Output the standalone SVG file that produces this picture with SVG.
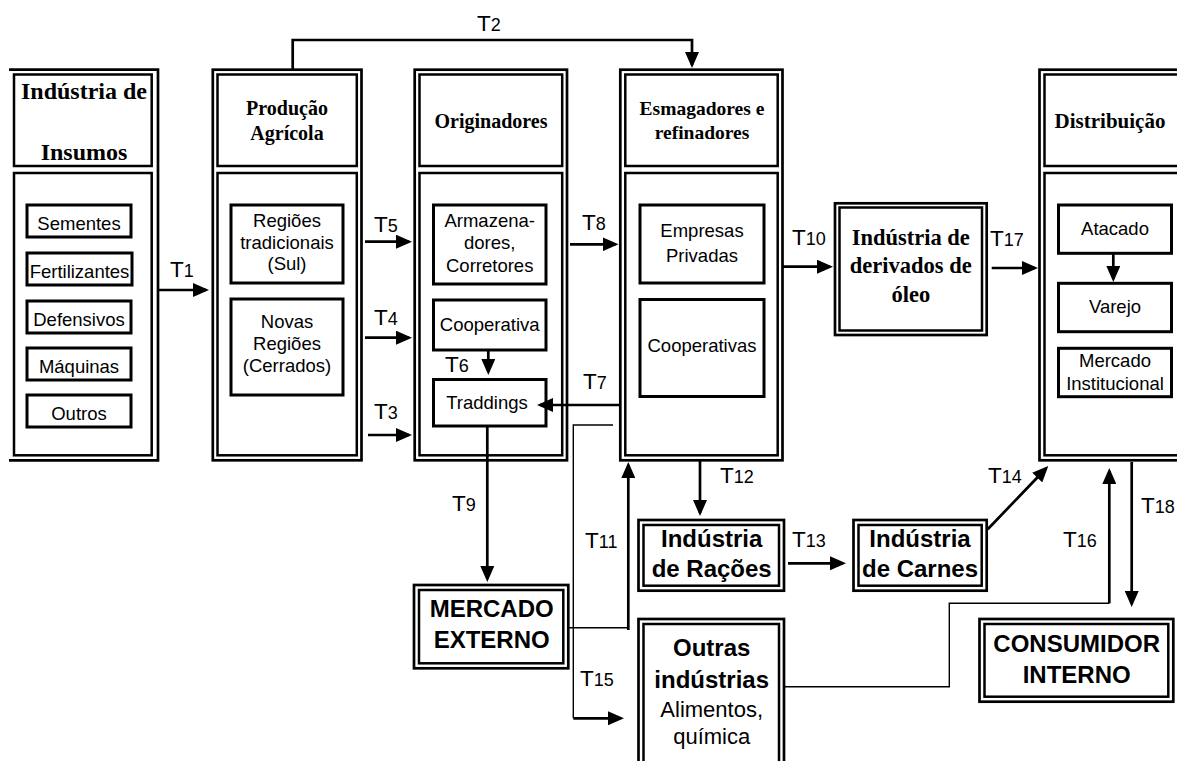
<svg xmlns="http://www.w3.org/2000/svg" width="1177" height="761" viewBox="0 0 1177 761">
<defs>
<marker id="a" markerUnits="userSpaceOnUse" markerWidth="16" markerHeight="14" refX="13" refY="7" orient="auto"><path d="M0,0 L16,7 L0,14 z" fill="#000"/></marker>
<style>
.o{fill:none;stroke:#000;stroke-width:2.7}
.i{fill:none;stroke:#000;stroke-width:2.5}
.bx{fill:#fff;stroke:#000;stroke-width:3}
.hs{font-family:"Liberation Serif","Times New Roman",serif;font-weight:bold;text-anchor:middle;fill:#000}
.t{font-family:"Liberation Sans",Arial,sans-serif;font-size:18.5px;text-anchor:middle;fill:#000}
.tb{font-family:"Liberation Sans",Arial,sans-serif;font-weight:bold;font-size:24px;text-anchor:middle;fill:#000}
.tr{font-family:"Liberation Sans",Arial,sans-serif;font-size:22px;text-anchor:middle;fill:#000}
.lbl{font-family:"Liberation Sans",Arial,sans-serif;font-size:22.5px;fill:#000}
.n{font-size:18px}
.c{fill:none;stroke:#000;stroke-width:2.7}
.th{fill:none;stroke:#000;stroke-width:1.4}
.ar{marker-end:url(#a)}
</style>
</defs>
<rect width="1177" height="761" fill="#fff"/>

<g id="insumos">
<path class="o" d="M9,69.7 H158 V460.3 H9"/>
<rect class="i" x="14" y="74.5" width="137.7" height="91.5"/>
<rect class="i" x="14" y="173" width="137.7" height="282.3"/>
<text class="hs" x="84" y="99" font-size="24">Indústria de</text>
<text class="hs" x="84" y="160" font-size="24">Insumos</text>
<rect class="bx" x="27" y="205" width="104" height="32"/>
<text class="t" x="79" y="230">Sementes</text>
<rect class="bx" x="27" y="253" width="105" height="32"/>
<text class="t" x="79.5" y="278">Fertilizantes</text>
<rect class="bx" x="27" y="301" width="104" height="32"/>
<text class="t" x="79" y="326">Defensivos</text>
<rect class="bx" x="27" y="348" width="104" height="32"/>
<text class="t" x="79" y="373">Máquinas</text>
<rect class="bx" x="27" y="395" width="104" height="32"/>
<text class="t" x="79" y="420">Outros</text>
</g>

<g id="producao">
<rect class="o" x="212.8" y="69.7" width="148.7" height="390.6"/>
<rect class="i" x="217.5" y="74.5" width="139.3" height="91.5"/>
<rect class="i" x="217.5" y="173" width="139.3" height="282.3"/>
<text class="hs" x="287" y="115" font-size="20">Produção</text>
<text class="hs" x="287" y="140" font-size="20">Agrícola</text>
<rect class="bx" x="231" y="205" width="112" height="78"/>
<text class="t" x="287" y="227">Regiões</text>
<text class="t" x="287" y="248.5">tradicionais</text>
<text class="t" x="287" y="269.5">(Sul)</text>
<rect class="bx" x="231" y="299" width="112" height="96"/>
<text class="t" x="287" y="328">Novas</text>
<text class="t" x="287" y="350">Regiões</text>
<text class="t" x="287" y="372">(Cerrados)</text>
</g>

<g id="originadores">
<rect class="o" x="414.7" y="69.7" width="152.3" height="390.6"/>
<rect class="i" x="419.5" y="74.5" width="142.7" height="91.5"/>
<rect class="i" x="419.5" y="173" width="142.7" height="282.3"/>
<text class="hs" x="491" y="128" font-size="20">Originadores</text>
<rect class="bx" x="433.5" y="205" width="112.5" height="79"/>
<text class="t" x="489.7" y="227">Armazena-</text>
<text class="t" x="489.7" y="249">dores,</text>
<text class="t" x="489.7" y="272">Corretores</text>
<rect class="bx" x="433.5" y="300" width="112.5" height="50"/>
<text class="t" x="489.7" y="331">Cooperativa</text>
<rect class="bx" x="433.5" y="379.5" width="112.5" height="46.5"/>
<text class="t" x="487" y="408.5">Traddings</text>
</g>

<g id="esmagadores">
<rect class="o" x="620.3" y="69.7" width="162.2" height="390.6"/>
<rect class="i" x="625.3" y="74.5" width="152.4" height="91.5"/>
<rect class="i" x="625.3" y="173" width="152.4" height="282.3"/>
<text class="hs" x="702" y="115" font-size="19.5">Esmagadores e</text>
<text class="hs" x="702" y="139.3" font-size="19.5">refinadores</text>
<rect class="bx" x="640" y="205" width="124" height="78"/>
<text class="t" x="702" y="237.3">Empresas</text>
<text class="t" x="702" y="261.7">Privadas</text>
<rect class="bx" x="640" y="299.5" width="124" height="97"/>
<text class="t" x="702" y="352">Cooperativas</text>
</g>

<g id="derivados">
<rect class="o" x="835" y="203.3" width="151.7" height="131.7"/>
<rect class="i" x="839.5" y="207.5" width="142.5" height="123"/>
<text class="hs" x="910.8" y="245" font-size="22.5">Indústria de</text>
<text class="hs" x="910.8" y="273.3" font-size="22.5">derivados de</text>
<text class="hs" x="910.8" y="301.7" font-size="22.5">óleo</text>
</g>

<g id="distribuicao">
<rect class="o" x="1039.5" y="69.7" width="150" height="390.6"/>
<rect class="i" x="1044.5" y="74.5" width="140" height="91.5"/>
<rect class="i" x="1044.5" y="173" width="140" height="282.3"/>
<text class="hs" x="1110" y="128.3" font-size="21">Distribuição</text>
<rect class="bx" x="1058.5" y="205" width="113" height="48.3"/>
<text class="t" x="1115" y="235">Atacado</text>
<rect class="bx" x="1058.5" y="283.3" width="113" height="48.4"/>
<text class="t" x="1115" y="313.3">Varejo</text>
<rect class="bx" x="1058.5" y="348.3" width="113" height="48.4"/>
<text class="t" x="1115" y="366.7" font-size="17">Mercado</text>
<text class="t" x="1115" y="390" font-size="17">Institucional</text>
</g>

<g id="mercado-externo">
<rect class="o" x="414" y="585" width="154.3" height="83.3"/>
<rect class="i" x="419" y="590" width="144.3" height="73.3"/>
<text class="tb" x="491.7" y="616.7">MERCADO</text>
<text class="tb" x="491.7" y="648.3">EXTERNO</text>
</g>

<g id="racoes">
<rect class="o" x="638.5" y="520" width="145.5" height="70.7"/>
<rect class="i" x="643.5" y="525" width="135.5" height="60.7"/>
<text class="tb" x="711.7" y="547.3">Indústria</text>
<text class="tb" x="711.7" y="577.3">de Rações</text>
</g>

<g id="outras">
<rect class="o" x="638.5" y="619" width="145.5" height="160"/>
<rect class="i" x="643.5" y="624" width="135.5" height="150"/>
<text class="tb" x="711.7" y="656">Outras</text>
<text class="tb" x="711.7" y="688.3">indústrias</text>
<text class="tr" x="711.7" y="716.7">Alimentos,</text>
<text class="tr" x="711.7" y="744">química</text>
</g>

<g id="carnes">
<rect class="o" x="853.5" y="520" width="133.2" height="70.7"/>
<rect class="i" x="858.5" y="525" width="123.2" height="60.7"/>
<text class="tb" x="920" y="547.3">Indústria</text>
<text class="tb" x="920" y="577.3">de Carnes</text>
</g>

<g id="consumidor">
<rect class="o" x="979.5" y="619" width="193.8" height="82.7"/>
<rect class="i" x="984.5" y="624" width="183.8" height="72.7"/>
<text class="tb" x="1076.7" y="651.7">CONSUMIDOR</text>
<text class="tb" x="1076.7" y="683.3">INTERNO</text>
</g>

<g id="connectors">
<path class="c ar" d="M159,290 H206"/>
<path class="c ar" d="M292.7,70 V40 H692 V65" stroke-width="2"/>
<path class="c ar" d="M365,241.7 H409"/>
<path class="c ar" d="M365,337.7 H409"/>
<path class="c ar" d="M368,435 H409"/>
<path class="c ar" d="M488.3,350 V372"/>
<path class="c ar" d="M620,405 H540"/>
<path class="c ar" d="M570,244.3 H615.5"/>
<path class="c ar" d="M487.3,426 V579"/>
<path class="c ar" d="M783,266.7 H830"/>
<path class="th" d="M568.3,627.7 H628.3"/>
<path class="c ar" d="M628.3,630 V465"/>
<path class="c ar" d="M700,461 V513"/>
<path class="c ar" d="M788,563.3 H843"/>
<path class="c ar" d="M987.7,529.3 L1046.2,468.2"/>
<path class="th" d="M613,425 H573.3 V718.3"/>
<path class="c ar" d="M573.3,718.3 H621"/>
<path class="th" d="M784,686.7 H949.3 V603.3 H1109.3"/>
<path class="c ar" d="M1109.3,603.3 V471"/>
<path class="c ar" d="M991.7,268 H1035"/>
<path class="c ar" d="M1131.7,462 V604"/>
<path class="c ar" d="M1113.3,253 V279"/>
</g>

<g id="labels">
<text class="lbl" x="170" y="277">T<tspan class="n">1</tspan></text>
<text class="lbl" x="477" y="31">T<tspan class="n">2</tspan></text>
<text class="lbl" x="374" y="419">T<tspan class="n">3</tspan></text>
<text class="lbl" x="374" y="325">T<tspan class="n">4</tspan></text>
<text class="lbl" x="374" y="232">T<tspan class="n">5</tspan></text>
<text class="lbl" x="445" y="372">T<tspan class="n">6</tspan></text>
<text class="lbl" x="583" y="388.5">T<tspan class="n">7</tspan></text>
<text class="lbl" x="582" y="229.5">T<tspan class="n">8</tspan></text>
<text class="lbl" x="452" y="511">T<tspan class="n">9</tspan></text>
<text class="lbl" x="792" y="245">T<tspan class="n">10</tspan></text>
<text class="lbl" x="585" y="548.3">T<tspan class="n">11</tspan></text>
<text class="lbl" x="720" y="483">T<tspan class="n">12</tspan></text>
<text class="lbl" x="792" y="547.3">T<tspan class="n">13</tspan></text>
<text class="lbl" x="988" y="483.3">T<tspan class="n">14</tspan></text>
<text class="lbl" x="580" y="686">T<tspan class="n">15</tspan></text>
<text class="lbl" x="1063" y="547.3">T<tspan class="n">16</tspan></text>
<text class="lbl" x="990" y="246">T<tspan class="n">17</tspan></text>
<text class="lbl" x="1141" y="512.7">T<tspan class="n">18</tspan></text>
</g>
</svg>
